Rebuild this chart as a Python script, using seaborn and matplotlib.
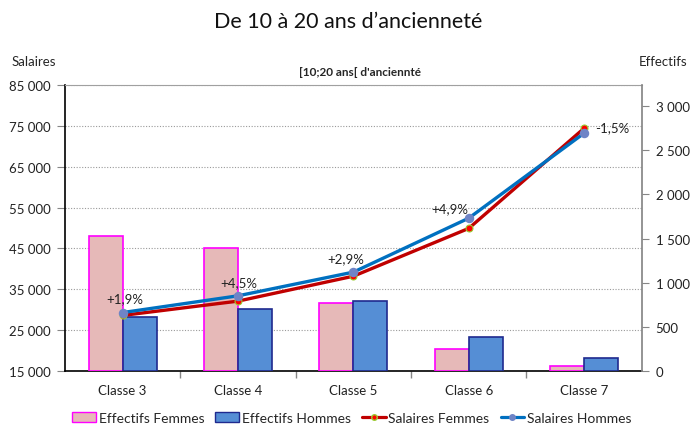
import matplotlib
matplotlib.use("Agg")
import matplotlib.pyplot as plt
from matplotlib.patches import Patch
from matplotlib.lines import Line2D
from matplotlib.ticker import FuncFormatter, FixedLocator
import seaborn as sns
import pandas as pd

# data
classes = ["Classe 3", "Classe 4", "Classe 5", "Classe 6", "Classe 7"]
eff_femmes = [1530, 1390, 765, 250, 55]
eff_hommes = [610, 700, 790, 380, 145]
sal_femmes = [28600, 32100, 38200, 49900, 74400]
sal_hommes = [29300, 33400, 39200, 52400, 73200]
ecarts = ["+1,9%", "+4,5%", "+2,9%", "+4,9%", "-1,5%"]
sal_ticks = [15000, 25000, 35000, 45000, 55000, 65000, 75000, 85000]
eff_ticks = [0, 500, 1000, 1500, 2000, 2500, 3000]

sns.set_theme(style="white")
plt.rcParams["font.family"] = ["Lato", "DejaVu Sans"]

df_eff = pd.DataFrame({
    "classe": classes * 2,
    "effectif": eff_femmes + eff_hommes,
    "sexe": ["Effectifs Femmes"] * 5 + ["Effectifs Hommes"] * 5})
df_sal = pd.DataFrame({
    "classe": classes * 2,
    "salaire": sal_femmes + sal_hommes,
    "sexe": ["Salaires Femmes"] * 5 + ["Salaires Hommes"] * 5})

fig = plt.figure(figsize=(6.9, 4.27), dpi=100)
ax = fig.add_axes([0.0942, 0.1288, 0.836, 0.670])
ax2 = ax.twinx()
ax3 = ax.twinx()

fmt = FuncFormatter(lambda v, p: f"{int(v):,}".replace(",", " "))

# bars - effectifs on right axis
sns.barplot(data=df_eff, x="classe", y="effectif", hue="sexe",
            palette=["#E6B9B8", "#558ED5"], saturation=1, width=0.59, ax=ax2,
            legend=False, linewidth=1.2)
edge = ["#FF00FF", "#1F2A8F"]
for i, cont in enumerate(ax2.containers):
    for p in cont:
        p.set_edgecolor(edge[i])
ax2.set_ylim(0, 3240)
ax2.yaxis.set_major_locator(FixedLocator(eff_ticks))
ax2.yaxis.set_major_formatter(fmt)
ax2.set_ylabel("")
ax2.tick_params(axis="y", right=True, direction="out", length=5, width=0.8,
                color="#868686", labelsize=9.5, pad=5, labelcolor="#222222")
for s in ["top", "left", "bottom"]:
    ax2.spines[s].set_visible(False)
ax2.spines["right"].set_color("#868686")

# lines - salaires on left axis scale
sns.pointplot(data=df_sal, x="classe", y="salaire", hue="sexe",
              palette=["#C00000", "#0070C0"], markers="o", linestyles="-",
              ax=ax3, legend=False, errorbar=None, markersize=5, linewidth=2.4)
ax3.set_ylim(15000, 85000)
for ln in ax3.lines:
    c = matplotlib.colors.to_hex(ln.get_color())
    if c.lower() == "#c00000":
        ln.set_markerfacecolor("#FF0000")
        ln.set_markeredgecolor("#9ACD32")
        ln.set_markeredgewidth(0.8)
    else:
        ln.set_markerfacecolor("#6F84C6")
        ln.set_markeredgecolor("#6F84C6")
ax3.axis("off")

offsets = [(2, 14), (1, 14), (-8, 14), (-19, 10), (28, 6)]
for i, txt in enumerate(ecarts):
    ax3.annotate(txt, (i, sal_hommes[i]), xytext=offsets[i],
                 textcoords="offset pixels", ha="center", va="center",
                 fontsize=9.5, color="#222222")

# main axis: salaires, grid, categories
ax.set_ylim(15000, 85000)
ax.set_xlim(-0.5, 4.5)
ax.yaxis.set_major_locator(FixedLocator(sal_ticks))
ax.yaxis.set_major_formatter(fmt)
ax.set_xticks(range(len(classes)))
ax.set_xticklabels(classes)
ax.xaxis.set_minor_locator(FixedLocator([0.5, 1.5, 2.5, 3.5]))
ax.tick_params(axis="x", which="major", length=0, labelsize=9.5, pad=9,
               labelcolor="#222222")
ax.tick_params(axis="x", which="minor", bottom=True, length=5, width=1,
               color="#868686")
ax.tick_params(axis="y", left=True, direction="out", length=6, width=0.8,
               color="#868686", labelsize=9.5, pad=4, labelcolor="#222222")
ax.grid(axis="y", linestyle=(0, (1, 1.5)), color="#9a9a9a", linewidth=0.8)
ax.grid(axis="x", visible=False)
ax.spines["left"].set_color("black")
ax.spines["left"].set_linewidth(1.2)
ax.spines["bottom"].set_color("black")
ax.spines["bottom"].set_linewidth(1.2)
ax.spines["top"].set_color("#a0a0a0")
ax.spines["top"].set_linewidth(0.8)
ax.spines["right"].set_visible(False)

fig.text(0.504, 1 - 22 / 427, "De 10 à 20 ans d\u2019ancienneté",
         ha="center", va="center", fontsize=15.5, color="#111111")
fig.text(0.522, 1 - 72 / 427, "[10;20 ans[ d'ancienn" + "t\u00e9",
         ha="center", va="center", fontsize=8.5, fontweight="bold")
fig.text(12 / 690, 1 - 62 / 427, "Salaires", ha="left", va="center", fontsize=9.5)
fig.text(687 / 690, 1 - 62 / 427, "Effectifs", ha="right", va="center", fontsize=9.5)

handles = [
    Patch(facecolor="#E6B9B8", edgecolor="#FF00FF", label="Effectifs Femmes"),
    Patch(facecolor="#558ED5", edgecolor="#1F2A8F", label="Effectifs Hommes"),
    Line2D([], [], color="#C00000", lw=2.3, marker="o", markersize=4,
           markerfacecolor="#FF0000", markeredgecolor="#9ACD32",
           label="Salaires Femmes"),
    Line2D([], [], color="#0070C0", lw=2.3, marker="o", markersize=4,
           markerfacecolor="#6F84C6", markeredgecolor="#6F84C6",
           label="Salaires Hommes"),
]
fig.legend(handles=handles, loc="center", bbox_to_anchor=(0.51, 1 - 419 / 427),
           ncol=4, frameon=False, fontsize=10, handlelength=1.7,
           handleheight=0.7, handletextpad=0.2, columnspacing=0.8)

fig.savefig("out.png", dpi=100)
